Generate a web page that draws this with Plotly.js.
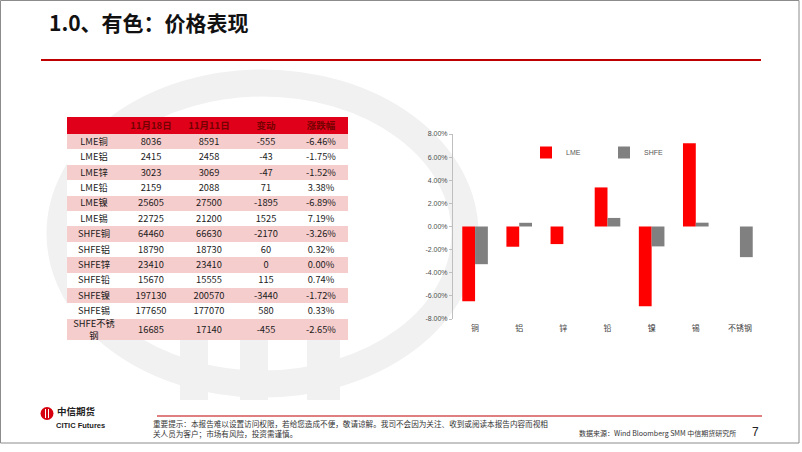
<!DOCTYPE html>
<html>
<head>
<meta charset="utf-8">
<script src="https://cdn.plot.ly/plotly-3.0.1.min.js"></script>
<style>
  body { margin: 0; background: #fff; }
  #slide { width: 802px; height: 452px; }
</style>
</head>
<body>
<div id="slide"></div>
<script>
// table data
var headerLabels = ['', '11月18日', '11月11日', '变动', '涨跌幅'];
var rowNames = ['LME铜', 'LME铝', 'LME锌', 'LME铅', 'LME镍', 'LME锡', 'SHFE铜', 'SHFE铝', 'SHFE锌', 'SHFE铅', 'SHFE镍', 'SHFE锡', 'SHFE不锈<br>钢'];
var priceNov18 = [8036, 2415, 3023, 2159, 25605, 22725, 64460, 18790, 23410, 15670, 197130, 177650, 16685];
var priceNov11 = [8591, 2458, 3069, 2088, 27500, 21200, 66630, 18730, 23410, 15555, 200570, 177070, 17140];
var priceChange = [-555, -43, -47, 71, -1895, 1525, -2170, 60, 0, 115, -3440, 580, -455];
var pctChange = ['-6.46%', '-1.75%', '-1.52%', '3.38%', '-6.89%', '7.19%', '-3.26%', '0.32%', '0.00%', '0.74%', '-1.72%', '0.33%', '-2.65%'];

// chart data (%)
var metals = ['铜', '铝', '锌', '铅', '镍', '锡', '不锈钢'];
var lmePct = [-6.46, -1.75, -1.52, 3.38, -6.89, 7.19, null];
var shfePct = [-3.26, 0.32, 0.00, 0.74, -1.72, 0.33, -2.65];
var yTicks = [-8, -6, -4, -2, 0, 2, 4, 6, 8];

var W = 802, H = 452;
function px(x) { return x / W; }
function py(y) { return 1 - y / H; }

var CJK = '"Noto Sans CJK SC", "Noto Sans", sans-serif';
var LATIN = '"Liberation Sans", Arial, sans-serif';

// table geometry (pixels): column widths, header and row heights
var colWidths = [54.5, 58.5, 58.5, 55, 54.5];
var headerH = 17, rowH = 15.4, lastRowH = 21.4;

var colEdges = [0];
colWidths.forEach(function(w) { colEdges.push(colEdges[colEdges.length - 1] + w); });
var rowEdges = [headerH];
rowNames.forEach(function(n, i) {
    rowEdges.push(rowEdges[i] + (i === rowNames.length - 1 ? lastRowH : rowH));
});
var tableW = colEdges[colEdges.length - 1];
var tableH = rowEdges[rowEdges.length - 1];

// cell colours: pink on every other row, and the text of each cell
var stripe = rowNames.map(function(n, i) { return colWidths.map(function() { return i % 2 === 0 ? 1 : 0; }); });
var cellText = rowNames.map(function(n, i) {
    return [n, String(priceNov18[i]), String(priceNov11[i]), String(priceChange[i]), pctChange[i]];
});

var tableHeader = {
    type: 'heatmap',
    xaxis: 'x3', yaxis: 'y3',
    x: colEdges,
    y: [0, headerH],
    z: [colWidths.map(function() { return 1; })],
    text: [headerLabels],
    texttemplate: '<b>%{text}</b>',
    textfont: {family: CJK, size: 9.5, color: '#740000'},
    colorscale: [[0, '#E1001A'], [1, '#E1001A']],
    showscale: false,
    hoverinfo: 'skip'
};

var tableBody = {
    type: 'heatmap',
    xaxis: 'x3', yaxis: 'y3',
    x: colEdges,
    y: rowEdges,
    z: stripe,
    zmin: 0, zmax: 1,
    text: cellText,
    texttemplate: '%{text}',
    textfont: {family: CJK, size: 9.3, color: '#1A1A1A'},
    colorscale: [[0, '#FFFFFF'], [1, '#F6CDCD']],
    showscale: false,
    hoverinfo: 'skip'
};

var lmeBars = {
    type: 'bar',
    name: 'LME',
    x: metals,
    y: lmePct,
    marker: {color: '#FF0000'},
    hoverinfo: 'x+y+name'
};

var shfeBars = {
    type: 'bar',
    name: 'SHFE',
    x: metals,
    y: shfePct,
    marker: {color: '#808080'},
    hoverinfo: 'x+y+name'
};

var plotTop = 134, plotBottom = 319;

var shapes = [
    // watermark (faint logo behind the content)
    {type: 'circle', xref: 'paper', yref: 'paper', layer: 'below',
     x0: px(60), x1: px(465), y0: py(384), y1: py(83),
     line: {color: '#F1F1F1', width: 27}},
    {type: 'rect', xref: 'paper', yref: 'paper', layer: 'below',
     x0: px(180), x1: px(208), y0: py(400), y1: py(340),
     fillcolor: '#F1F1F1', line: {width: 0}},
    {type: 'rect', xref: 'paper', yref: 'paper', layer: 'below',
     x0: px(240), x1: px(268), y0: py(400), y1: py(340),
     fillcolor: '#F1F1F1', line: {width: 0}},
    {type: 'rect', xref: 'paper', yref: 'paper', layer: 'below',
     x0: px(307), x1: px(340), y0: py(400), y1: py(340),
     fillcolor: '#F1F1F1', line: {width: 0}},
    // slide frame
    {type: 'rect', xref: 'paper', yref: 'paper', layer: 'below',
     x0: px(0.5), x1: px(799), y0: py(443), y1: py(0.5),
     line: {color: '#8C8C8C', width: 1}},
    // title rule
    {type: 'line', xref: 'paper', yref: 'paper',
     x0: px(41), x1: px(761), y0: py(60), y1: py(60),
     line: {color: '#C00000', width: 2}},
    // footer rule
    {type: 'line', xref: 'paper', yref: 'paper',
     x0: px(157), x1: px(762), y0: py(416), y1: py(416),
     line: {color: '#C00000', width: 1.2}},
    // logo disc
    {type: 'circle', xref: 'paper', yref: 'paper',
     x0: px(40.5), x1: px(53.5), y0: py(420), y1: py(407),
     fillcolor: '#D7000F', line: {width: 0}},
    {type: 'line', xref: 'paper', yref: 'paper',
     x0: px(45.5), x1: px(45.5), y0: py(418), y1: py(409),
     line: {color: '#FFFFFF', width: 1}},
    {type: 'line', xref: 'paper', yref: 'paper',
     x0: px(48.5), x1: px(48.5), y0: py(418), y1: py(409),
     line: {color: '#FFFFFF', width: 1}}
];

var annotations = [
    {text: '<b>1.0、有色：价格表现</b>', xref: 'paper', yref: 'paper',
     x: px(47), y: py(22), xanchor: 'left', yanchor: 'middle', showarrow: false,
     font: {family: CJK, size: 21, color: '#111111'}},
    {text: '<b>中信期货</b>', xref: 'paper', yref: 'paper',
     x: px(55), y: py(411), xanchor: 'left', yanchor: 'middle', showarrow: false,
     font: {family: CJK, size: 9.5, color: '#222222'}},
    {text: '<b>CITIC Futures</b>', xref: 'paper', yref: 'paper',
     x: px(54), y: py(425), xanchor: 'left', yanchor: 'middle', showarrow: false,
     font: {family: LATIN, size: 7.5, color: '#222222'}},
    {text: '重要提示：本报告难以设置访问权限，若给您造成不便，敬请谅解。我司不会因为关注、收到或阅读本报告内容而视相<br>关人员为客户；市场有风险，投资需谨慎。',
     xref: 'paper', yref: 'paper', x: px(151), y: py(428.5), xanchor: 'left', yanchor: 'middle',
     align: 'left', showarrow: false,
     font: {family: CJK, size: 7.6, color: '#333333'}},
    {text: '数据来源：Wind Bloomberg SMM 中信期货研究所', xref: 'paper', yref: 'paper',
     x: px(577), y: py(433), xanchor: 'left', yanchor: 'middle', showarrow: false,
     font: {family: CJK, size: 7, color: '#333333'}},
    {text: '7', xref: 'paper', yref: 'paper',
     x: px(755), y: py(432), xanchor: 'center', yanchor: 'middle', showarrow: false,
     font: {family: LATIN, size: 12, color: '#222222'}}
];

var layout = {
    width: W,
    height: H,
    margin: {l: 0, r: 0, t: 0, b: 0},
    paper_bgcolor: '#FFFFFF',
    plot_bgcolor: 'rgba(0,0,0,0)',
    showlegend: true,
    barmode: 'group',
    bargap: 0.42,
    bargroupgap: 0,
    xaxis: {
        domain: [px(453), px(762)],
        anchor: 'y',
        showline: false,
        showgrid: false,
        zeroline: false,
        ticks: '',
        ticklabelstandoff: 3,
        tickfont: {family: CJK, size: 8, color: '#404040'},
        fixedrange: true
    },
    // zero line with the small ticks between categories
    xaxis2: {
        overlaying: 'x',
        anchor: 'free',
        position: (py(plotBottom) + py(plotTop)) / 2,
        range: [-0.5, 6.5],
        tickvals: [0.5, 1.5, 2.5, 3.5, 4.5, 5.5],
        ticks: 'inside',
        ticklen: 3,
        tickcolor: '#BFBFBF',
        showticklabels: false,
        showline: true,
        linecolor: '#D0D0D0',
        linewidth: 1,
        showgrid: false,
        zeroline: false,
        fixedrange: true
    },
    yaxis: {
        domain: [py(plotBottom), py(plotTop)],
        range: [-8, 8],
        tickvals: yTicks,
        ticktext: yTicks.map(function(v) { return v.toFixed(2) + '%'; }),
        ticks: 'outside',
        ticklen: 3,
        tickcolor: '#BFBFBF',
        showline: true,
        linecolor: '#BFBFBF',
        showgrid: false,
        zeroline: false,
        tickfont: {family: LATIN, size: 7, color: '#4D4D4D'},
        fixedrange: true
    },
    xaxis3: {
        domain: [px(67), px(348)],
        anchor: 'y3',
        range: [0, tableW],
        visible: false,
        fixedrange: true
    },
    yaxis3: {
        domain: [py(117 + tableH), py(117)],
        anchor: 'x3',
        range: [tableH, 0],
        visible: false,
        fixedrange: true
    },
    legend: {
        orientation: 'h',
        x: px(526),
        y: py(138),
        xanchor: 'left',
        yanchor: 'top',
        entrywidth: 33,
        bgcolor: 'rgba(0,0,0,0)',
        font: {family: LATIN, size: 7, color: '#595959'}
    },
    shapes: shapes,
    annotations: annotations
};

Plotly.newPlot('slide', [tableHeader, tableBody, lmeBars, shfeBars], layout, {displayModeBar: false, staticPlot: true});
</script>
</body>
</html>
